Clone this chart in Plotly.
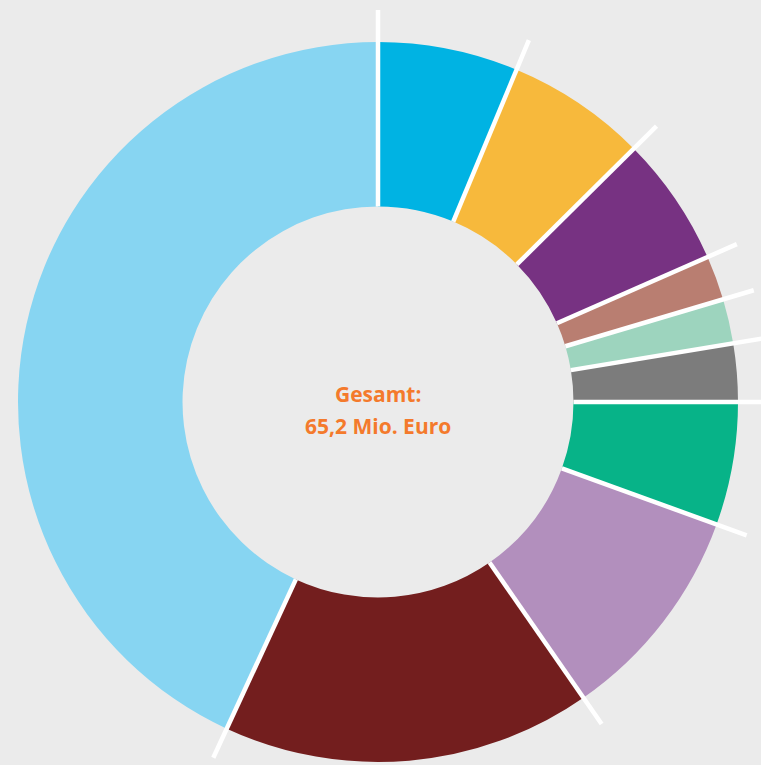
import math
import plotly.graph_objects as go

# Aufteilung der Gesamtsumme (Mio. Euro), im Uhrzeigersinn ab 12 Uhr
segmente = ["Bereich 1", "Bereich 2", "Bereich 3", "Bereich 4", "Bereich 5",
            "Bereich 6", "Bereich 7", "Bereich 8", "Bereich 9", "Bereich 10"]
werte = [4.1, 4.1, 3.8, 1.3, 1.3, 1.7, 3.6, 6.4, 10.8, 28.1]
farben = ["#00b3e3", "#f7b93c", "#773282", "#b97e71", "#9dd4be",
          "#7c7c7c", "#07b388", "#b28fbd", "#731e1e", "#87d5f2"]
gesamt_text = ["Gesamt:", "65,2 Mio. Euro"]

W, H = 761, 765
BG = "#ebebeb"
cx, cy = 378, 402          # ring centre in pixels (from top-left)
r_out = 360
hole = 0.543
r_in = r_out * hole
r_line = 392               # separator lines reach past the ring

fig = go.Figure(go.Pie(
    labels=segmente,
    values=werte,
    marker=dict(colors=farben, line=dict(width=0)),
    hole=hole,
    sort=False,
    direction="clockwise",
    rotation=0,
    textinfo="none",
    hoverinfo="label+value",
    domain=dict(x=[(cx - r_out) / W, (cx + r_out) / W],
                y=[(H - cy - r_out) / H, (H - cy + r_out) / H]),
))

# white separators at every slice boundary, derived from the cumulative values
total = sum(werte)
shapes = []
acc = 0.0
for v in werte:
    ang = 2 * math.pi * acc / total
    s, c = math.sin(ang), math.cos(ang)
    shapes.append(dict(
        type="line", xref="paper", yref="paper",
        x0=(cx + r_in * s) / W, y0=(H - cy + r_in * c) / H,
        x1=(cx + r_line * s) / W, y1=(H - cy + r_line * c) / H,
        line=dict(color="white", width=4.5),
    ))
    acc += v

annotations = []
for i, t in enumerate(gesamt_text):
    annotations.append(dict(
        text="<b>" + t + "</b>", x=cx / W, y=(H - cy) / H,
        xref="paper", yref="paper", showarrow=False,
        xanchor="center", yanchor="middle",
        yshift=8 - 32 * i,
        font=dict(family="Open Sans", size=21, color="#f47a2c"),
    ))

fig.update_layout(
    width=W, height=H,
    margin=dict(l=0, r=0, t=0, b=0),
    paper_bgcolor=BG, plot_bgcolor=BG,
    showlegend=False,
    shapes=shapes,
    annotations=annotations,
)

fig.write_html("out.html")
